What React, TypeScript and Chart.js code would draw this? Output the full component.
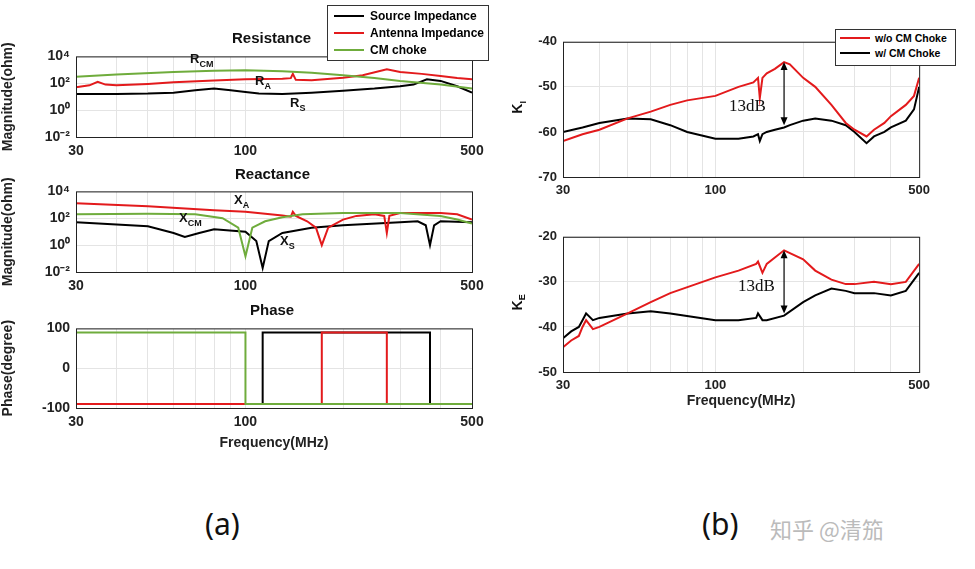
import React, { useEffect, useRef } from "react";
import { Chart, registerables } from "chart.js";
Chart.register(...registerables);

const RED = "#e31a1c";
const GREEN = "#6fac3c";
const BLACK = "#000000";
const FONT = "'Liberation Sans', Arial, sans-serif";

// Resistance
const rsF = [30, 40, 50, 60, 70, 80, 90, 100, 110, 130, 160, 200, 250, 300, 330, 363, 400, 450, 500];
const rsV = [16, 16, 17, 20, 30, 40, 30, 22, 17, 16, 20, 28, 40, 60, 80, 200, 150, 60, 20];
const raF = [30, 33, 35, 37, 40, 50, 60, 80, 100, 130, 138, 140, 143, 160, 200, 230, 273, 300, 350, 400, 450, 500];
const raV = [50, 70, 130, 80, 70, 90, 120, 160, 200, 220, 240, 500, 180, 170, 260, 400, 1100, 700, 500, 350, 250, 200];
const rcF = [30, 40, 60, 80, 100, 130, 160, 200, 250, 300, 400, 500];
const rcV = [300, 450, 700, 850, 950, 800, 600, 400, 250, 150, 80, 40];

// Reactance
const xaF = [30, 50, 80, 100, 130, 138, 140, 143, 155, 165, 172, 180, 200, 220, 250, 268, 273, 278, 300, 400, 450, 500];
const xaV = [1300, 800, 400, 300, 160, 130, 300, 150, 60, 20, 1, 20, 80, 150, 200, 150, 8, 150, 250, 250, 200, 80];
const xcF = [30, 50, 70, 85, 95, 100, 105, 115, 130, 150, 200, 300, 400, 450, 500];
const xcV = [200, 220, 200, 100, 20, 0.15, 20, 60, 120, 200, 250, 250, 150, 80, 40];
const xsF = [30, 50, 60, 65, 72, 80, 100, 108, 113, 118, 130, 160, 200, 300, 340, 360, 371, 382, 400, 500];
const xsV = [50, 25, 8, 4, 8, 15, 10, 2, 0.02, 2, 8, 20, 30, 50, 60, 30, 1, 30, 60, 50];

// Phase
const phGF = [30, 100, 100, 500];
const phGV = [90, 90, -90, -90];
const phBF = [30, 113, 113, 371, 371, 500];
const phBV = [-90, -90, 90, 90, -90, -90];
const phRF = [30, 172, 172, 273, 273, 500];
const phRV = [-90, -90, 90, 90, -90, -90];

// K_I
const kiF = [30, 35, 40, 50, 60, 70, 80, 100, 120, 135, 140, 142, 145, 150, 160, 172, 180, 200, 220, 250, 280, 300, 330, 350, 380, 400, 450, 480, 500];
const kiRV = [-62, -60.5, -59.5, -57, -55.5, -54, -53, -52, -50, -49, -48, -52.5, -48, -47, -46, -44.5, -45, -48, -50, -54, -58, -59.5, -61, -59.5, -58, -56.5, -54, -52, -48];
const kiBV = [-60, -59, -58, -57, -57.2, -58.5, -60, -61.5, -61.5, -61, -60.5, -62, -60.5, -60, -59.5, -59, -58.5, -57.5, -57, -57.5, -58.5, -60, -62.5, -61, -60, -59, -57.5, -55, -50];

// K_E
const keF = [30, 32, 34, 35, 36, 38, 40, 50, 60, 70, 100, 120, 138, 140, 145, 150, 172, 200, 220, 250, 280, 300, 350, 400, 450, 500];
const keRV = [-44.5, -43, -42, -40, -38.5, -40.5, -40, -37, -34.5, -32.5, -29, -27.5, -26, -25.5, -28, -26, -23, -25, -27.5, -29.5, -30.5, -30.5, -30, -30.5, -30, -26];
const keBV = [-42.5, -41, -40, -38.5, -37, -38.5, -38, -37, -36.5, -37, -38.5, -38.5, -38, -37, -38.5, -38.5, -37.5, -34.5, -33, -31.5, -32, -32.5, -32.5, -33, -32, -28];

const ARROW_F = 172;

const xy = (f: number[], v: number[]) => f.map((x, i) => ({ x, y: v[i] }));
const ds = (label: string, f: number[], v: number[], color: string, order: number) => ({
  label, data: xy(f, v), borderColor: color, backgroundColor: color, borderWidth: 2, pointRadius: 0, tension: 0, order,
});

const xMinor = [30, 40, 50, 60, 70, 80, 90, 100, 200, 300, 400, 500];
const xMajor = [30, 100, 500];

const framePlugin = {
  id: "frame",
  afterDraw(chart: any) {
    const { ctx, chartArea: a } = chart;
    ctx.save();
    ctx.strokeStyle = "#222";
    ctx.lineWidth = 1;
    ctx.strokeRect(a.left + 0.5, a.top + 0.5, a.right - a.left, a.bottom - a.top);
    ctx.restore();
  },
};

const arrowPlugin = (f: number, y1: number, y2: number) => ({
  id: "arrow",
  afterDatasetsDraw(chart: any) {
    const { ctx } = chart;
    const xs = chart.scales.x, ys = chart.scales.y;
    const x = xs.getPixelForValue(f);
    const a = ys.getPixelForValue(y1), b = ys.getPixelForValue(y2);
    ctx.save();
    ctx.strokeStyle = "#000"; ctx.fillStyle = "#000"; ctx.lineWidth = 1.2;
    ctx.beginPath(); ctx.moveTo(x, a + 4); ctx.lineTo(x, b - 4); ctx.stroke();
    ctx.beginPath(); ctx.moveTo(x, a); ctx.lineTo(x - 3.5, a + 8); ctx.lineTo(x + 3.5, a + 8); ctx.fill();
    ctx.beginPath(); ctx.moveTo(x, b); ctx.lineTo(x - 3.5, b - 8); ctx.lineTo(x + 3.5, b - 8); ctx.fill();
    ctx.restore();
  },
});

const xScale = (h: number, bold: boolean, title?: string) => ({
  type: "logarithmic", min: 30, max: 500,
  afterBuildTicks: (s: any) => { s.ticks = xMinor.map((v) => ({ value: v })); },
  afterFit: (s: any) => { s.height = h; },
  grid: { color: "#e4e4e4", drawTicks: false },
  border: { display: false },
  ticks: {
    autoSkip: false, maxRotation: 0, color: "#222", padding: 6,
    font: { family: FONT, size: bold ? 14 : 13, weight: "bold" },
    callback: (v: any) => (xMajor.includes(v) ? String(v) : ""),
  },
  title: title ? { display: true, text: title, color: "#222", font: { family: FONT, size: 14, weight: "bold" }, padding: { top: 2 } } : { display: false },
});

const sup: Record<number, string> = { 0.01: "10⁻²", 1: "10⁰", 100: "10²", 10000: "10⁴" };
const logY = (w: number) => ({
  type: "logarithmic", min: 0.01, max: 10000,
  afterBuildTicks: (s: any) => { s.ticks = [0.01, 1, 100, 10000].map((v) => ({ value: v })); },
  afterFit: (s: any) => { s.width = w; },
  grid: { color: "#e4e4e4", drawTicks: false },
  border: { display: false },
  ticks: { color: "#222", padding: 6, font: { family: FONT, size: 14, weight: "bold" }, callback: (v: any) => sup[v] ?? "" },
  title: { display: true, text: "Magnitude(ohm)", color: "#222", font: { family: FONT, size: 14, weight: "bold" }, padding: 0 },
});
const linY = (w: number, min: number, max: number, ticks: number[], title: string, bold: boolean) => ({
  type: "linear", min, max,
  afterBuildTicks: (s: any) => { s.ticks = ticks.map((v) => ({ value: v })); },
  afterFit: (s: any) => { s.width = w; },
  grid: { color: "#e4e4e4", drawTicks: false },
  border: { display: false },
  ticks: { color: "#222", padding: 6, font: { family: FONT, size: bold ? 14 : 13, weight: "bold" } },
  title: { display: title !== "", text: title, color: "#222", font: { family: FONT, size: 14, weight: "bold" }, padding: 0 },
});

function ChartBox({ left, top, width, height, datasets, scales, padRight, plugins }: any) {
  const ref = useRef<HTMLCanvasElement>(null);
  useEffect(() => {
    const c = new Chart(ref.current!, {
      type: "line",
      data: { datasets },
      options: {
        animation: false, responsive: false, maintainAspectRatio: false,
        parsing: false as any,
        layout: { padding: { top: 8, right: padRight, left: 0, bottom: 0 } },
        plugins: { legend: { display: false }, tooltip: { enabled: false } },
        scales,
      } as any,
      plugins: [framePlugin, ...(plugins || [])],
    });
    return () => c.destroy();
  }, []);
  return <canvas ref={ref} width={width} height={height} style={{ position: "absolute", left, top, width, height }} />;
}

const T = (props: any) => <div style={{ position: "absolute", fontFamily: FONT, color: "#111", whiteSpace: "nowrap", ...props.style }}>{props.children}</div>;

export default function App() {
  const L = { left: 0, width: 490, padRight: 18 };
  const R = { left: 500, width: 436, padRight: 13 };
  return (
    <div style={{ position: "fixed", left: 0, top: 0, width: 975, height: 569, background: "#fff", overflow: "hidden" }}>
      <ChartBox {...L} top={42} height={8 + 87 + 26}
        datasets={[ds("Source Impedance", rsF, rsV, BLACK, 3), ds("Antenna Impedance", raF, raV, RED, 2), ds("CM choke", rcF, rcV, GREEN, 1)]}
        scales={{ x: xScale(26, true), y: logY(76) }} />
      <ChartBox {...L} top={177} height={8 + 87 + 26}
        datasets={[ds("XS", xsF, xsV, BLACK, 3), ds("XA", xaF, xaV, RED, 2), ds("XCM", xcF, xcV, GREEN, 1)]}
        scales={{ x: xScale(26, true), y: logY(76) }} />
      <ChartBox {...L} top={314} height={8 + 86 + 48}
        datasets={[ds("PS", phBF, phBV, BLACK, 3), ds("PA", phRF, phRV, RED, 2), ds("PCM", phGF, phGV, GREEN, 1)]}
        scales={{ x: xScale(48, true, "Frequency(MHz)"), y: linY(76, -100, 100, [-100, 0, 100], "Phase(degree)", true) }} />
      <ChartBox {...R} top={28} height={8 + 141 + 26}
        datasets={[ds("w/ CM Choke", kiF, kiBV, BLACK, 2), ds("w/o CM Choke", kiF, kiRV, RED, 1)]}
        scales={{ x: xScale(26, false), y: linY(63, -70, -40, [-70, -60, -50, -40], "", false) }}
        plugins={[arrowPlugin(ARROW_F, -44.5, -58.5)]} />
      <ChartBox {...R} top={223} height={8 + 141 + 42}
        datasets={[ds("w/ CM Choke", keF, keBV, BLACK, 2), ds("w/o CM Choke", keF, keRV, RED, 1)]}
        scales={{ x: xScale(42, false, "Frequency(MHz)"), y: linY(63, -50, -20, [-50, -40, -30, -20], "", false) }}
        plugins={[arrowPlugin(ARROW_F, -23, -37)]} />

      {/* titles */}
      <T style={{ left: 232, top: 29, fontSize: 15, fontWeight: "bold" }}>Resistance</T>
      <T style={{ left: 235, top: 165, fontSize: 15, fontWeight: "bold" }}>Reactance</T>
      <T style={{ left: 250, top: 301, fontSize: 15, fontWeight: "bold" }}>Phase</T>

      {/* curve labels */}
      <T style={{ left: 190, top: 51, fontSize: 13, fontWeight: "bold" }}>R<sub style={{ fontSize: 9 }}>CM</sub></T>
      <T style={{ left: 255, top: 73, fontSize: 13, fontWeight: "bold" }}>R<sub style={{ fontSize: 9 }}>A</sub></T>
      <T style={{ left: 290, top: 95, fontSize: 13, fontWeight: "bold" }}>R<sub style={{ fontSize: 9 }}>S</sub></T>
      <T style={{ left: 234, top: 192, fontSize: 13, fontWeight: "bold" }}>X<sub style={{ fontSize: 9 }}>A</sub></T>
      <T style={{ left: 179, top: 210, fontSize: 13, fontWeight: "bold" }}>X<sub style={{ fontSize: 9 }}>CM</sub></T>
      <T style={{ left: 280, top: 233, fontSize: 13, fontWeight: "bold" }}>X<sub style={{ fontSize: 9 }}>S</sub></T>

      {/* left legend */}
      <div style={{ position: "absolute", left: 327, top: 5, width: 160, height: 54, border: "1px solid #333", background: "#fff", fontFamily: FONT, fontSize: 12, fontWeight: "bold" }}>
        {[["Source Impedance", BLACK], ["Antenna Impedance", RED], ["CM choke", GREEN]].map(([t, c], i) => (
          <div key={i} style={{ position: "absolute", left: 6, top: 3 + i * 17, display: "flex", alignItems: "center" }}>
            <span style={{ display: "inline-block", width: 30, height: 2, background: c, marginRight: 6 }} />{t}
          </div>
        ))}
      </div>

      {/* right legend */}
      <div style={{ position: "absolute", left: 835, top: 29, width: 119, height: 35, border: "1px solid #333", background: "#fff", fontFamily: FONT, fontSize: 10.5, fontWeight: "bold" }}>
        {[["w/o CM Choke", RED], ["w/ CM Choke", BLACK]].map(([t, c], i) => (
          <div key={i} style={{ position: "absolute", left: 4, top: 2 + i * 15, display: "flex", alignItems: "center" }}>
            <span style={{ display: "inline-block", width: 30, height: 2, background: c, marginRight: 5 }} />{t}
          </div>
        ))}
      </div>

      {/* right y labels */}
      <T style={{ left: 512, top: 98, fontSize: 14, fontWeight: "bold", transform: "rotate(-90deg)" }}>K<sub style={{ fontSize: 9 }}>I</sub></T>
      <T style={{ left: 510, top: 293, fontSize: 14, fontWeight: "bold", transform: "rotate(-90deg)" }}>K<sub style={{ fontSize: 9 }}>E</sub></T>

      <T style={{ left: 729, top: 96, fontSize: 17, fontFamily: "'Liberation Serif', serif" }}>13dB</T>
      <T style={{ left: 738, top: 276, fontSize: 17, fontFamily: "'Liberation Serif', serif" }}>13dB</T>

      <T style={{ left: 205, top: 503, fontSize: 30, fontFamily: "'Noto Sans', sans-serif" }}>(a)</T>
      <T style={{ left: 702, top: 503, fontSize: 30, fontFamily: "'Noto Sans', sans-serif" }}>(b)</T>
      <T style={{ left: 770, top: 512, fontSize: 22, color: "#bbb", fontFamily: "'Noto Sans CJK SC', sans-serif" }}>知乎 @清笳</T>
    </div>
  );
}
